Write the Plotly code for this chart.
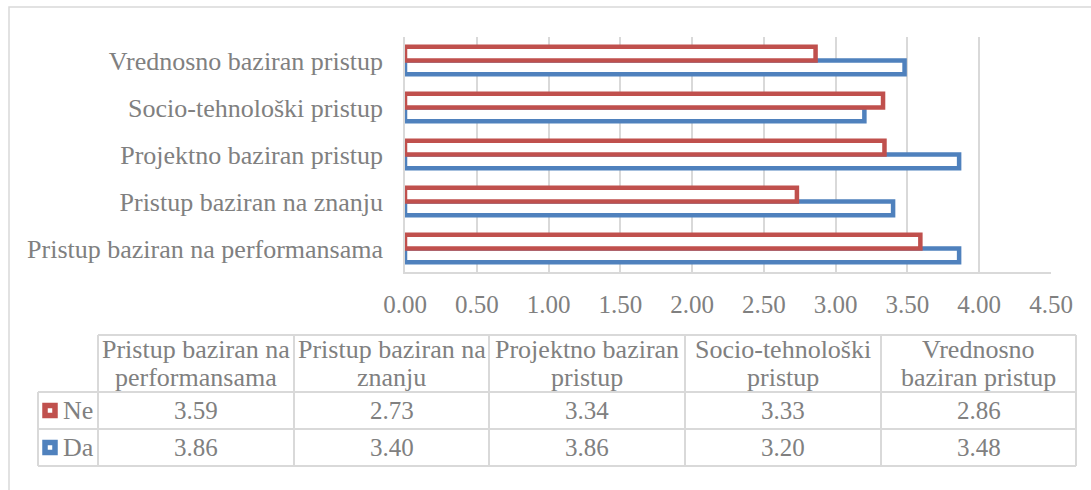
import plotly.graph_objects as go

# Data
categories = ["Pristup baziran na performansama", "Pristup baziran na znanju",
              "Projektno baziran pristup", "Socio-tehnološki pristup",
              "Vrednosno baziran pristup"]
header_lines = ["Pristup baziran na\nperformansama", "Pristup baziran na\nznanju",
                "Projektno baziran\npristup", "Socio-tehnološki\npristup",
                "Vrednosno\nbaziran pristup"]
ne_values = [3.59, 2.73, 3.34, 3.33, 2.86]
da_values = [3.86, 3.40, 3.86, 3.20, 3.48]
series_names = ["Ne", "Da"]

W, H = 1091, 490
RED = "#C0504D"
BLUE = "#4F81BD"
GRID = "#d9d9d9"
TXT = "#808080"
FONT = "Liberation Serif"

def px(x):
    return x / W

def py(y):
    return 1 - y / H

fig = go.Figure()

# blue first so it sits below the red bar in each group
fig.add_trace(go.Bar(y=categories, x=da_values, name="Da", orientation="h",
                     marker=dict(color="white", line=dict(color=BLUE, width=4.5))))
fig.add_trace(go.Bar(y=categories, x=ne_values, name="Ne", orientation="h",
                     marker=dict(color="white", line=dict(color=RED, width=4.5))))

fig.update_layout(
    width=W, height=H,
    margin=dict(l=0, r=0, t=0, b=0, pad=0),
    paper_bgcolor="white", plot_bgcolor="white",
    showlegend=False,
    barmode="group", bargap=0.415, bargroupgap=0,
    font=dict(family=FONT, color=TXT, size=26),
)
fig.update_xaxes(domain=[px(405), px(1051)], range=[0, 4.5], dtick=0.5,
                 tickformat=".2f", showgrid=True, gridcolor=GRID, gridwidth=1.5,
                 zeroline=False, showline=True, linecolor=GRID, linewidth=1.5,
                 tickfont=dict(size=25), ticklabelstandoff=9, automargin=False,
                 fixedrange=True)
fig.update_yaxes(domain=[py(272), py(37)], showgrid=False, zeroline=False,
                 showline=True, linecolor=GRID, linewidth=1.5,
                 tickfont=dict(size=26), ticklabelstandoff=15, automargin=False,
                 fixedrange=True)

# outer frame of the chart area
fig.add_shape(type="rect", xref="paper", yref="paper", x0=px(9), y0=py(500),
              x1=px(1100), y1=py(7), line=dict(color=GRID, width=1.5), layer="below")

# data table under the chart
col_edges = [38, 98, 294, 489, 685, 881, 1076]
row_edges = [335, 392, 429, 466]
line = dict(color=GRID, width=2)

def hline(y, x0, x1):
    fig.add_shape(type="line", xref="paper", yref="paper", x0=px(x0), x1=px(x1),
                  y0=py(y), y1=py(y), line=line)

def vline(x, y0, y1):
    fig.add_shape(type="line", xref="paper", yref="paper", x0=px(x), x1=px(x),
                  y0=py(y0), y1=py(y1), line=line)

hline(row_edges[0], col_edges[1], col_edges[-1])
for y in row_edges[1:]:
    hline(y, col_edges[0], col_edges[-1])
vline(col_edges[0], row_edges[1], row_edges[-1])
for x in col_edges[1:]:
    vline(x, row_edges[0], row_edges[-1])

# header cells
for i, txt in enumerate(header_lines):
    cx = (col_edges[i + 1] + col_edges[i + 2]) / 2
    for j, part in enumerate(txt.split("\n")):
        fig.add_annotation(x=px(cx), y=py(349 + 28 * j), xref="paper", yref="paper",
                           text=part, showarrow=False, font=dict(size=26),
                           xanchor="center", yanchor="middle")

# value rows
rows = [(series_names[0], ne_values, RED), (series_names[1], da_values, BLUE)]
for r, (name, vals, col) in enumerate(rows):
    cy = (row_edges[r + 1] + row_edges[r + 2]) / 2
    fig.add_shape(type="rect", xref="paper", yref="paper",
                  x0=px(45), x1=px(55), y0=py(cy - 5), y1=py(cy + 5),
                  fillcolor="white", line=dict(color=col, width=5.5))
    fig.add_annotation(x=px(61), y=py(cy), xref="paper", yref="paper", text=name,
                       showarrow=False, font=dict(size=26), xanchor="left",
                       yanchor="middle")
    for i, v in enumerate(vals):
        cx = (col_edges[i + 1] + col_edges[i + 2]) / 2
        fig.add_annotation(x=px(cx), y=py(cy), xref="paper", yref="paper",
                           text=f"{v:.2f}", showarrow=False, font=dict(size=25),
                           xanchor="center", yanchor="middle")

# drop the browser's default page margin so the figure sits at 0,0
fig.write_html("out.html", config={"displayModeBar": False},
               post_script="document.body.style.margin='0';")
